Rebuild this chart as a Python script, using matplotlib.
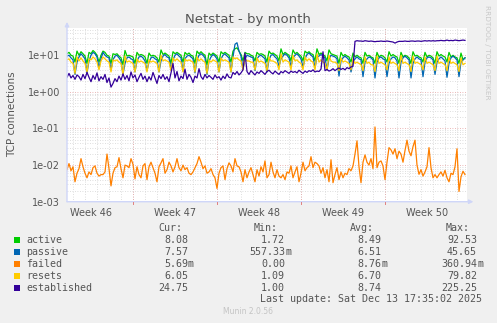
import numpy as np
import matplotlib

matplotlib.use("Agg")
import matplotlib.pyplot as plt
from matplotlib.patches import Rectangle
from matplotlib.ticker import FixedLocator, FixedFormatter, NullFormatter

W, H = 497, 323

# 4-hour averages, one line per day (6 samples per day)
active = [
    11, 12, 10, 9.5, 6.5, 13,
    10, 12.5, 11, 9.5, 6, 12,
    11, 13.5, 12, 10, 6.5, 10,
    13, 12, 10, 9.5, 6, 11,
    10.5, 11, 9.5, 8.5, 5.5, 13.5,
    9.5, 10, 9.5, 9, 6, 12,
    10, 10.5, 10, 9, 6, 11.5,
    9.5, 10, 9.5, 8.5, 6.5, 14,
    10.5, 11.5, 10.5, 9.5, 6, 12.5,
    11, 12, 11, 10, 6.5, 12,
    10.5, 11.5, 10, 9.5, 6, 13,
    11, 12.5, 11, 10, 5.5, 11.5,
    10, 11.5, 10.5, 9.5, 6.5, 12.5,
    11, 12, 11, 10, 6.5, 13,
    15, 16, 13, 10.5, 7, 12,
    11, 11, 10, 9.5, 7, 12,
    10.5, 11, 10.5, 9.5, 6.5, 13,
    11, 11.5, 10.5, 9.5, 7, 15,
    10.5, 12, 11, 10, 7, 14,
    11, 12, 10.5, 9.5, 7, 13,
    11.5, 12.5, 11, 10.5, 7, 15,
    10.5, 11.5, 10.5, 9.5, 7, 14,
    11, 10.5, 10, 9.5, 6, 12,
    9.5, 10.5, 9.5, 9, 6.5, 11.5,
    9, 10, 9, 8.5, 6, 12,
    9.5, 10, 9, 8.5, 6, 12,
    9, 10, 9.5, 8.5, 6.5, 12.5,
    9.5, 10.5, 9.5, 9, 6, 12,
    9, 10, 9.5, 8.5, 6, 12.5,
    9.5, 10, 9, 8.5, 6.5, 12,
    9, 10, 9.5, 8.5, 6, 12.5,
    9.5, 10.5, 9.5, 9, 6.5, 12,
    9, 10, 9, 8.5, 6, 11.5,
    7.5, 8.5,
]
passive = [
    9.5, 10, 8.5, 7.5, 3.0, 6.5,
    9, 11, 9.5, 8, 3.3, 7,
    10, 12, 11, 9, 4.5, 8,
    12, 10, 9, 8.5, 4.0, 7.5,
    9.5, 10, 8.5, 7, 3.0, 6,
    8.5, 9, 8, 7.5, 3.5, 7,
    9, 9.5, 8.5, 7, 3.8, 6.5,
    8.5, 9, 8, 7.5, 3.5, 7,
    9.5, 10.5, 9, 8.5, 4.0, 7.5,
    10, 11, 9.5, 8.5, 3.7, 8,
    9.5, 10, 9, 8, 3.3, 7.5,
    10, 11, 10, 8.5, 3.0, 7,
    9, 10.5, 9.5, 8, 3.5, 8,
    10, 11, 9.5, 8.5, 3.5, 9,
    20, 22, 13, 9.5, 4.2, 8,
    10, 9.5, 9, 8.5, 3.8, 8,
    9.5, 10, 9, 8, 3.5, 7.5,
    10, 10.5, 9, 8, 5.0, 8,
    9.5, 11, 10, 8.5, 5.0, 8.5,
    10, 11, 9.5, 8, 4.8, 8,
    10.5, 11.5, 10, 9, 4.5, 9,
    9.5, 10.5, 9.5, 8.5, 4.0, 8,
    10, 9.5, 9, 8, 2.7, 7,
    8.5, 9.5, 8.5, 7.5, 3.5, 6.5,
    8, 9, 8, 7.5, 2.6, 6.5,
    8, 9, 8.5, 7.5, 2.4, 6.5,
    8.5, 9, 8, 7.5, 2.6, 6,
    8, 9, 8.5, 7, 2.4, 6.5,
    8.5, 9.5, 8.5, 7.5, 2.4, 6,
    8, 9, 8, 7.5, 2.6, 6.5,
    8.5, 9, 8.5, 7.5, 3.0, 6.5,
    8, 9, 8, 7, 2.5, 6,
    8.5, 9.5, 8.5, 7.5, 2.6, 6.5,
    7.5, 8.5,
]
failed = [
    0.0075, 0.011, 0.007, 0.009, 0.0035, 0.006,
    0.008, 0.015, 0.009, 0.006, 0.0045, 0.0065,
    0.0055, 0.0085, 0.0095, 0.006, 0.005, 0.0055,
    0.0055, 0.0065, 0.02, 0.008, 0.0027, 0.006,
    0.0085, 0.009, 0.016, 0.008, 0.0045, 0.01,
    0.0095, 0.0085, 0.015, 0.0105, 0.0042, 0.009,
    0.0055, 0.0045, 0.0095, 0.011, 0.004, 0.009,
    0.012, 0.0085, 0.006, 0.0035, 0.009, 0.0115,
    0.015, 0.006, 0.0075, 0.012, 0.0095, 0.0065,
    0.009, 0.015, 0.0085, 0.007, 0.01, 0.0075,
    0.0085, 0.006, 0.0055, 0.0065, 0.0085, 0.011,
    0.017, 0.012, 0.008, 0.0095, 0.006, 0.0065,
    0.008, 0.0055, 0.0045, 0.0023, 0.006, 0.0085,
    0.0095, 0.004, 0.008, 0.0115, 0.0095, 0.0065,
    0.015, 0.0095, 0.009, 0.0065, 0.0035, 0.0075,
    0.0045, 0.0065, 0.0085, 0.0055, 0.0035, 0.0075,
    0.005, 0.009, 0.0065, 0.013, 0.0045, 0.0055,
    0.012, 0.0065, 0.0045, 0.0075, 0.005, 0.0045,
    0.0055, 0.004, 0.0065, 0.006, 0.0095, 0.0045,
    0.0065, 0.009, 0.0035, 0.006, 0.012, 0.007,
    0.0085, 0.0095, 0.017, 0.0085, 0.012, 0.011,
    0.0095, 0.006, 0.0085, 0.0045, 0.0075, 0.0035,
    0.014, 0.0033, 0.0055, 0.0085, 0.004, 0.0065,
    0.0045, 0.006, 0.0055, 0.008, 0.007, 0.0095,
    0.02, 0.046, 0.009, 0.0033, 0.012, 0.019,
    0.012, 0.01, 0.015, 0.008, 0.11, 0.0085,
    0.012, 0.013, 0.0095, 0.004, 0.012, 0.03,
    0.026, 0.02, 0.028, 0.015, 0.024, 0.02,
    0.012, 0.025, 0.048, 0.024, 0.018, 0.032,
    0.048, 0.01, 0.0056, 0.0075, 0.005, 0.0065,
    0.009, 0.03, 0.0085, 0.0045, 0.0055, 0.0045,
    0.0055, 0.0065, 0.005, 0.0072, 0.0045, 0.0035,
    0.006, 0.0055, 0.009, 0.028, 0.0019, 0.0048,
    0.0068, 0.0055,
]
resets = [
    7.5, 8, 6.5, 6, 3.2, 9,
    7, 8.5, 7, 6, 3.5, 8,
    7.5, 9, 8, 6.5, 4, 7,
    9, 8, 7, 6.5, 3.5, 7.5,
    7, 7.5, 6.5, 6, 3, 9.5,
    6.5, 7, 6.5, 6, 3.5, 8,
    6.5, 7, 6.5, 6, 3.5, 7.5,
    6.5, 7, 6.5, 6, 3.5, 10,
    7, 7.5, 7, 6.5, 3.8, 8.5,
    7, 8, 7, 6.5, 3.5, 8,
    7, 7.5, 7, 6.5, 3.5, 9,
    7, 8, 7, 6.5, 3.2, 7.5,
    6.5, 7.5, 7, 6.5, 3.5, 8.5,
    7, 7.5, 7, 6.5, 3.5, 9,
    8, 8.5, 7.5, 7, 4, 8,
    7, 7, 6.5, 6.5, 4, 8.5,
    6.5, 7, 6.5, 6, 3.8, 9,
    7, 7, 6.5, 6, 4, 11,
    6.5, 7.5, 7, 6.5, 4, 10,
    7, 7.5, 6.5, 6, 4, 9,
    7, 8, 7, 6.5, 4, 11,
    6.5, 7.5, 6.5, 6, 4, 10,
    7, 6.5, 6.5, 6, 3.8, 8.5,
    6.5, 7, 6.5, 6, 4, 8,
    6, 6.5, 6, 5.5, 3.8, 9,
    6, 6.5, 5.5, 5.5, 3.6, 9.5,
    6, 6.5, 6, 5.5, 4, 9,
    6, 6.5, 6, 5.5, 3.8, 10,
    6, 6.5, 6, 5.5, 3.6, 9.5,
    6, 6.5, 6, 5.5, 4, 9,
    6, 6.5, 6, 5.5, 3.8, 9.5,
    6, 6.5, 6, 5.5, 3.8, 9,
    6, 6.5, 6, 5.5, 3.6, 8.5,
    5.5, 6,
]
established = [
    2.5, 3.2, 2.4, 2.8, 2.2, 2.9,
    2.6, 2.1, 3.0, 2.3, 3.4, 2.5,
    1.9, 2.8, 2.2, 3.3, 2.0, 2.6,
    2.2, 3.0, 1.8, 2.4, 1.35, 1.7,
    2.3, 1.9, 2.7, 2.1, 3.1, 2.2,
    2.8, 2.0, 3.5, 2.4, 2.9, 1.9,
    2.5, 3.2, 2.2, 2.7, 1.9, 2.6,
    2.1, 3.4, 2.4, 1.7, 2.8, 2.3,
    3.0, 2.2, 2.6, 1.9, 3.3, 6.0,
    2.4, 3.6, 2.0, 2.7, 2.3, 4.2,
    2.2, 3.0, 2.5, 1.8, 2.7, 2.4,
    4.3, 2.6, 2.2, 3.0, 2.4, 2.8,
    2.5, 2.2, 2.9, 2.4, 2.6, 2.1,
    2.7, 2.3, 3.1, 2.5, 2.4, 3.4,
    3.0, 3.6, 2.9, 3.3, 4.0, 11.5,
    3.6, 3.0, 3.8, 3.3, 2.9, 3.5,
    3.2, 3.8, 3.4, 3.0, 3.6, 3.9,
    3.4, 3.1, 3.7, 3.3, 3.0, 3.6,
    3.3, 3.8, 3.5, 3.2, 3.7, 3.4,
    3.6, 3.3, 3.9, 3.5, 3.2, 3.7,
    3.4, 3.8, 3.6, 4.0, 3.5, 3.7,
    3.6, 4.2, 12.5, 3.8, 4.1, 3.7,
    3.9, 4.3, 3.8, 4.2, 4.5, 4.1,
    4.4, 4.0, 4.6, 4.3, 4.8, 5.0,
    24, 25, 24.5, 24.5, 24, 25,
    24.5, 24, 24.5, 24, 23.5, 24,
    24, 24.5, 24, 24, 24.5, 24,
    23.5, 23, 21.5, 23, 24, 24,
    24, 24.5, 24, 24, 24.5, 24.5,
    24, 24.5, 24.5, 24, 24.5, 25,
    24.5, 25, 24.5, 25, 24.5, 25,
    25, 25.5, 25, 25, 26, 25,
    25.5, 25, 26, 25.5, 25, 25.5,
    26, 25.5,
]

NAMES = ["active", "passive", "failed", "resets", "established"]
COLORS = ["#00CC00", "#0066B3", "#FF8000", "#FFCC00", "#330099"]
CUR = ["8.08", "7.57", "5.69m", "6.05", "24.75"]
MIN = ["1.72", "557.33m", "0.00", "1.09", "1.00"]
AVG = ["8.49", "6.51", "8.76m", "6.70", "8.74"]
MAX = ["92.53", "45.65", "360.94m", "79.82", "225.25"]

WEEK_LABELS = ["Week 46", "Week 47", "Week 48", "Week 49", "Week 50"]
WEEK_MID = [2.0, 9.0, 16.0, 23.0, 30.0]        # days from left edge
WEEK_START = [5.5, 12.5, 19.5, 26.5]           # Monday 00:00
Y_TICKS = [1e-3, 1e-2, 1e-1, 1e0, 1e1]
Y_LABELS = ["1e-03", "1e-02", "1e-01", "1e+00", "1e+01"]
SPAN_DAYS = 400 / 12

FONT = "#555555"
AXIS = "#CFD6F8"


def fx(x):
    return x / W


def fy(y):
    return 1 - y / H


fig = plt.figure(figsize=(W / 100, H / 100), dpi=100, facecolor="#F0F0F0")
ax = fig.add_axes([fx(67), fy(201.7), fx(467) - fx(67), fy(28) - fy(201.7)])
ax.set_facecolor("white")
ax.set_yscale("log")
ax.set_xlim(0, SPAN_DAYS)
ax.set_ylim(1e-3, 10 ** 1.745)

# grid: gray dots for days / sub-decades, red dots for weeks / decades
for d in np.arange(0.5, SPAN_DAYS, 1.0):
    ax.axvline(d, color="#D4D4D4", lw=0.6, ls=(0, (1, 2)), zorder=0)
for w in WEEK_START:
    ax.axvline(w, color="#E4A0A0", lw=0.6, ls=(0, (1, 2)), zorder=0.5)
for dec in [1e-3, 1e-2, 1e-1, 1e0, 1e1]:
    for m in range(2, 10):
        v = dec * m
        if v < 10 ** 1.745:
            ax.axhline(v, color="#D4D4D4", lw=0.6, ls=(0, (1, 2)), zorder=0)
for v in Y_TICKS:
    ax.axhline(v, color="#E4A0A0", lw=0.6, ls=(0, (1, 2)), zorder=0.5)

series = [active, passive, failed, resets, established]
for vals, color in zip(series, COLORS):
    t = np.arange(len(vals)) / 6.0
    ax.plot(t, vals, color=color, lw=0.9, zorder=2)

for s in ax.spines.values():
    s.set_visible(False)
ax.yaxis.set_major_locator(FixedLocator(Y_TICKS))
ax.yaxis.set_major_formatter(FixedFormatter(Y_LABELS))
ax.yaxis.set_minor_formatter(NullFormatter())
ax.tick_params(axis="y", which="both", length=0, pad=5, labelsize=7, labelcolor=FONT)
ax.set_xticks(WEEK_MID)
ax.set_xticklabels(WEEK_LABELS)
ax.tick_params(axis="x", length=0, pad=4.5, labelsize=7, labelcolor=FONT)

# axis lines with arrows
ax.annotate("", xy=(0, 1.035), xytext=(0, 0), xycoords="axes fraction",
            arrowprops=dict(arrowstyle="-|>", color=AXIS, lw=1, mutation_scale=6, shrinkA=0, shrinkB=0))
ax.annotate("", xy=(1.016, 0), xytext=(0, 0), xycoords="axes fraction",
            arrowprops=dict(arrowstyle="-|>", color=AXIS, lw=1, mutation_scale=6, shrinkA=0, shrinkB=0))
for w in WEEK_START:
    ax.plot([w, w], [10 ** -3.06, 1e-3], color="#E08080", lw=0.7, clip_on=False, zorder=3)

fig.text(fx(248), fy(19), "Netstat - by month", ha="center", va="center", fontsize=9.5, color=FONT)
fig.text(fx(12), fy(114.5), "TCP connections", ha="center", va="center", rotation=90,
         fontsize=7.5, color=FONT)
fig.text(fx(487), fy(5), "RRDTOOL / TOBI OETIKER", ha="center", va="top", rotation=270,
         fontsize=5.3, color="#C8C8C8")

# legend table
mono = "DejaVu Sans Mono"
fs = 7.2
for label, xr in zip(["Cur:", "Min:", "Avg:", "Max:"], [182, 278, 374, 470]):
    fig.text(fx(xr), fy(228), label, ha="right", va="center", fontsize=fs, family=mono, color=FONT)


def cell(s, xr, y):
    num, suf = (s[:-1], s[-1]) if s.endswith("m") else (s, "")
    fig.text(fx(xr), fy(y), num, ha="right", va="center", fontsize=fs, family=mono, color=FONT)
    if suf:
        fig.text(fx(xr), fy(y), suf, ha="left", va="center", fontsize=fs, family=mono, color=FONT)


for i, name in enumerate(NAMES):
    y = 239.7 + 12 * i
    fig.patches.append(Rectangle((fx(14), fy(y + 3)), fx(6), 6 / H, transform=fig.transFigure,
                                 facecolor=COLORS[i], edgecolor="none"))
    fig.text(fx(26.5), fy(y), name, ha="left", va="center", fontsize=fs, family=mono, color=FONT)
    for col, xr in zip([CUR, MIN, AVG, MAX], [188, 285, 381, 477]):
        cell(col[i], xr, y)

fig.text(fx(482), fy(299.5), "Last update: Sat Dec 13 17:35:02 2025", ha="right", va="center",
         fontsize=fs, family=mono, color=FONT)
fig.text(fx(248), fy(312), "Munin 2.0.56", ha="center", va="center", fontsize=5.5, color="#C4C4C4")

fig.savefig("out.png", dpi=100, facecolor=fig.get_facecolor())
